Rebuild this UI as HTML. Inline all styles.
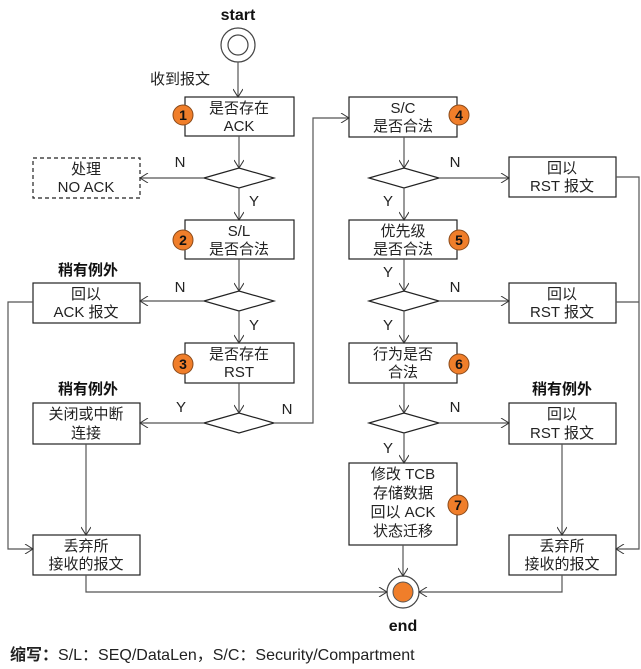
<!DOCTYPE html>
<html><head><meta charset="utf-8"><style>
html,body{margin:0;padding:0;background:#fff;}
svg{display:block;font-family:"Liberation Sans","Noto Sans CJK SC",sans-serif;}
</style></head><body>
<svg width="641" height="669" viewBox="0 0 641 669" xmlns="http://www.w3.org/2000/svg">
<defs>
<marker id="a" markerWidth="10" markerHeight="10" refX="9" refY="5" orient="auto" markerUnits="userSpaceOnUse">
<path d="M1,0 L9,5 L1,10" fill="none" stroke="#333" stroke-width="1"/>
</marker>
</defs>
<g fill="none" stroke="#444" stroke-width="1.2">
<circle cx="238" cy="45" r="17"/><circle cx="238" cy="45" r="10"/>
<circle cx="403" cy="592" r="16"/>
</g>
<circle cx="403" cy="592" r="10" fill="#f07e2a" stroke="#555"/>
<g fill="#fff" stroke="#222" stroke-width="1.2">
<rect x="185" y="97" width="109" height="39"/>
<rect x="33" y="158" width="107" height="40" stroke-dasharray="4,3"/>
<rect x="185" y="220" width="109" height="39"/>
<rect x="33" y="283" width="107" height="40"/>
<rect x="185" y="343" width="109" height="40"/>
<rect x="33" y="403" width="107" height="41"/>
<rect x="33" y="535" width="107" height="40"/>
<rect x="349" y="97" width="108" height="40"/>
<rect x="509" y="157" width="107" height="40"/>
<rect x="349" y="220" width="108" height="39"/>
<rect x="509" y="283" width="107" height="40"/>
<rect x="349" y="343" width="108" height="40"/>
<rect x="509" y="403" width="107" height="41"/>
<rect x="349" y="463" width="108" height="82"/>
<rect x="509" y="535" width="107" height="40"/>
<polygon points="204,178 239,168 274,178 239,188"/>
<polygon points="204,301 239,291 274,301 239,311"/>
<polygon points="204,423 239,413 274,423 239,433"/>
<polygon points="369,178 404,168 439,178 404,188"/>
<polygon points="369,301 404,291 439,301 404,311"/>
<polygon points="369,423 404,413 439,423 404,433"/>
</g>
<g fill="none" stroke="#555" stroke-width="1.2" marker-end="url(#a)">
<path d="M238,62 V97"/>
<path d="M239,136 V168"/>
<path d="M204,178 H140"/>
<path d="M239,188 V220"/>
<path d="M239,259 V291"/>
<path d="M204,301 H140"/>
<path d="M239,311 V343"/>
<path d="M239,383 V413"/>
<path d="M204,423 H140"/>
<path d="M274,423 H313 V118 H349"/>
<path d="M33,302 H8 V549 H33"/>
<path d="M86,444 V535"/>
<path d="M86,575 V592 H387"/>
<path d="M404,137 V168"/>
<path d="M439,178 H509"/>
<path d="M404,188 V220"/>
<path d="M404,259 V291"/>
<path d="M439,301 H509"/>
<path d="M404,311 V343"/>
<path d="M404,383 V413"/>
<path d="M439,423 H509"/>
<path d="M404,433 V463"/>
<path d="M403,545 V576"/>
<path d="M616,177 H639 V549 H616"/>
<path d="M562,444 V535"/>
<path d="M562,575 V592 H419"/>
</g>
<path d="M616,302 H639" stroke="#555" stroke-width="1.2"/>
<g fill="#f07e2a" stroke="#8a4a1a" stroke-width="1">
<circle cx="183" cy="115" r="10"/><circle cx="183" cy="240" r="10"/><circle cx="183" cy="364" r="10"/>
<circle cx="459" cy="115" r="10"/><circle cx="459" cy="240" r="10"/><circle cx="459" cy="364" r="10"/>
<circle cx="458" cy="505" r="10"/>
</g>
<g font-size="14" font-weight="bold" fill="#111" text-anchor="middle">
<text x="183" y="120">1</text><text x="183" y="245">2</text><text x="183" y="369">3</text>
<text x="459" y="120">4</text><text x="459" y="245">5</text><text x="459" y="369">6</text>
<text x="458" y="510">7</text>
<text x="238" y="20" font-size="16">start</text>
<text x="403" y="631" font-size="16">end</text>
<text x="88" y="275" font-size="15">稍有例外</text>
<text x="88" y="394" font-size="15">稍有例外</text>
<text x="562" y="394" font-size="15">稍有例外</text>
</g>
<g font-size="15" fill="#222" text-anchor="middle">
<text x="180" y="84">收到报文</text>
<text x="239" y="113">是否存在</text><text x="239" y="131">ACK</text>
<text x="86" y="174">处理</text><text x="86" y="192">NO ACK</text>
<text x="239" y="236">S/L</text><text x="239" y="254">是否合法</text>
<text x="86" y="299">回以</text><text x="86" y="317">ACK 报文</text>
<text x="239" y="359">是否存在</text><text x="239" y="377">RST</text>
<text x="86" y="419">关闭或中断</text><text x="86" y="438">连接</text>
<text x="86" y="551">丢弃所</text><text x="86" y="569">接收的报文</text>
<text x="403" y="113">S/C</text><text x="403" y="131">是否合法</text>
<text x="562" y="173">回以</text><text x="562" y="191">RST 报文</text>
<text x="403" y="236">优先级</text><text x="403" y="254">是否合法</text>
<text x="562" y="299">回以</text><text x="562" y="317">RST 报文</text>
<text x="403" y="359">行为是否</text><text x="403" y="377">合法</text>
<text x="562" y="419">回以</text><text x="562" y="438">RST 报文</text>
<text x="403" y="479">修改 TCB</text><text x="403" y="498">存储数据</text>
<text x="403" y="517">回以 ACK</text><text x="403" y="536">状态迁移</text>
<text x="562" y="551">丢弃所</text><text x="562" y="569">接收的报文</text>
<text x="180" y="167">N</text><text x="254" y="206">Y</text>
<text x="180" y="292">N</text><text x="254" y="330">Y</text>
<text x="181" y="412">Y</text><text x="287" y="414">N</text>
<text x="455" y="167">N</text><text x="388" y="206">Y</text>
<text x="388" y="277">Y</text>
<text x="455" y="292">N</text><text x="388" y="330">Y</text>
<text x="455" y="412">N</text><text x="388" y="453">Y</text>
</g>
<text x="10" y="660" font-size="16" fill="#222"><tspan font-weight="bold">缩写：</tspan>S/L：SEQ/DataLen，S/C：Security/Compartment</text>
</svg>
</body></html>
